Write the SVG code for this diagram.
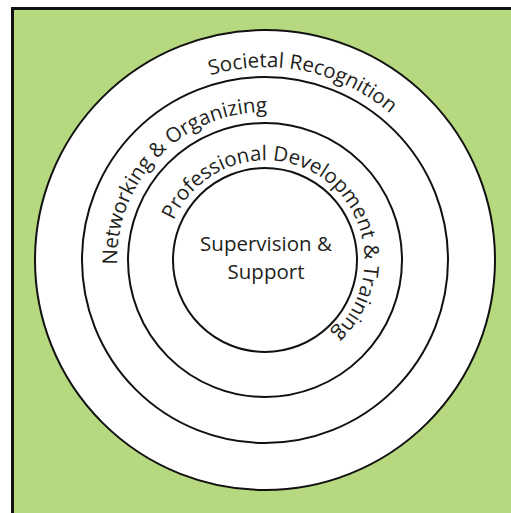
<svg xmlns="http://www.w3.org/2000/svg" width="511" height="513" viewBox="0 0 511 513">
  <style>
    .ring { fill: #ffffff; stroke: #111111; stroke-width: 2; }
    .label { font-family: "Open Sans", "Noto Sans", "Liberation Sans", sans-serif; font-size: 20.5px; fill: #231f20; }
  </style>
  <defs>
    <!-- baseline circles, each starting opposite its label's centre so startOffset 50% centres the text -->
    <path id="arc-societal" d="M224.87,448.78 A193,193 0 0 1 305.13,71.22 A193,193 0 0 1 224.87,448.78"/>
    <path id="arc-networking" d="M370.57,363.73 A148,148 0 0 1 159.43,156.27 A148,148 0 0 1 370.57,363.73"/>
    <path id="arc-professional" d="M206.93,341.41 A100,100 0 0 1 323.07,178.59 A100,100 0 0 1 206.93,341.41"/>
  </defs>

  <!-- page and green panel -->
  <rect x="0" y="0" width="511" height="513" fill="#ffffff"/>
  <rect x="12.5" y="8.5" width="510" height="520" fill="#b6d87f" stroke="#111111" stroke-width="3"/>

  <g id="societal-recognition">
    <circle class="ring" cx="265" cy="260" r="230"/>
    <text class="label"><textPath href="#arc-societal" startOffset="50%" text-anchor="middle">Societal Recognition</textPath></text>
  </g>

  <g id="networking-organizing">
    <circle class="ring" cx="265" cy="260" r="183"/>
    <text class="label"><textPath href="#arc-networking" startOffset="50%" text-anchor="middle">Networking &amp; Organizing</textPath></text>
  </g>

  <g id="professional-development">
    <circle class="ring" cx="265" cy="260" r="137"/>
    <text class="label"><textPath href="#arc-professional" startOffset="50%" text-anchor="middle">Professional Development &amp; Training</textPath></text>
  </g>

  <g id="supervision-support">
    <circle class="ring" cx="265" cy="260" r="92"/>
    <text class="label" x="266" y="251" text-anchor="middle">Supervision &amp;</text>
    <text class="label" x="266" y="279" text-anchor="middle">Support</text>
  </g>

  <g id="connectors"></g>
</svg>
